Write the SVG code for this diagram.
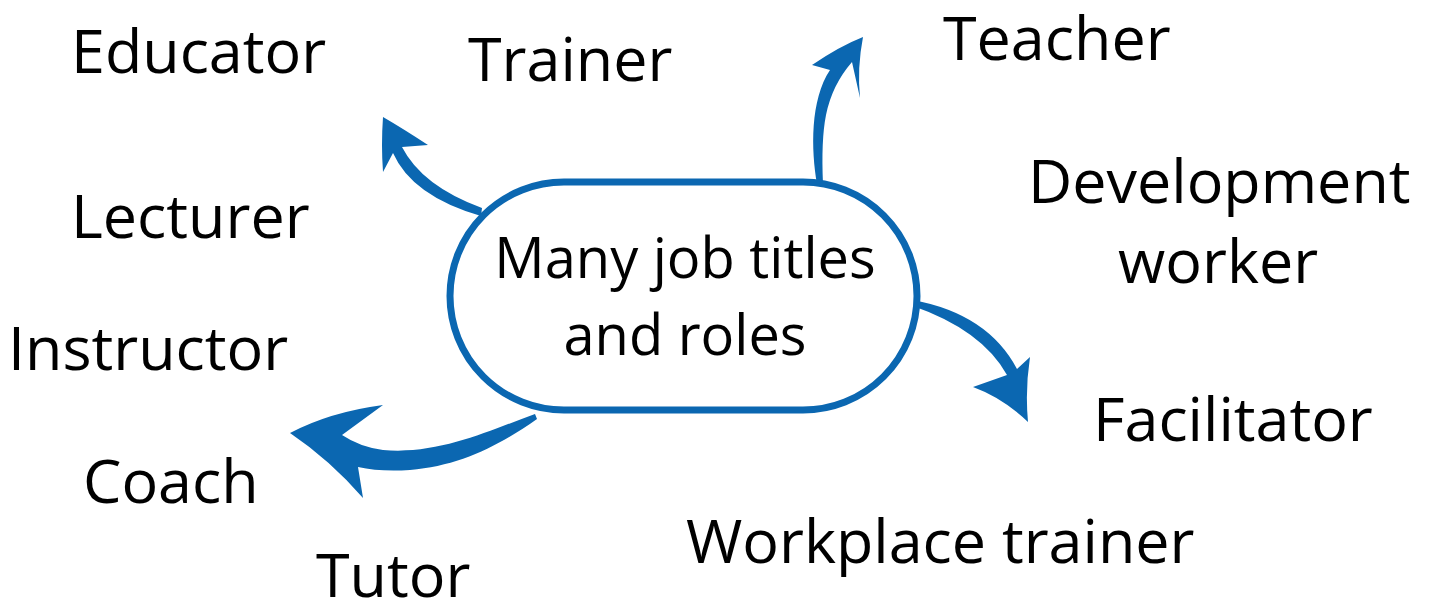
<svg xmlns="http://www.w3.org/2000/svg" width="1432" height="605" viewBox="0 0 1432 605">
<style>
.lbl{font-family:"Open Sans","Noto Sans",sans-serif;font-size:61px;fill:#000}
.ctr{font-family:"Open Sans","Noto Sans",sans-serif;font-size:56px;fill:#000;text-anchor:middle}
.arr{fill:#0b67b1}
</style>
<rect width="1432" height="605" fill="#fff"/>
<g id="connectors">
<path class="arr" d="M482,208 Q422,186 402,147 L428,145 Q402,128 383,117 Q381,145 383,172 L393,153 Q412,196 481,216 Z"/>
<path class="arr" d="M535,414 C490,430 440,455 383,450 Q360,447 342,435 L383,405 Q330,412 290,433 Q330,460 363,498 L358,467 Q380,472 410,470 C460,466 500,445 537,419 Z"/>
<path class="arr" d="M817,184 C811,150 810,100 830,70 L812,65 Q840,46 863,37 Q857,68 860,98 L852,62 Q832,85 826,115 Q821,140 823,184 Z"/>
<path class="arr" d="M913,300 Q988,314 1017,369 L1030,357 Q1025,390 1028,422 Q1003,398 973,387 L1007,375 Q982,330 913,306 Z"/>
</g>
<g id="center">
<rect x="450" y="182" width="467" height="228" rx="114" ry="114" fill="#fff" stroke="#0b67b1" stroke-width="7"/>
<text class="ctr" x="685" y="278">Many job titles</text>
<text class="ctr" x="685" y="355">and roles</text>
</g>
<g id="educator"><text class="lbl" x="71" y="73">Educator</text></g>
<g id="trainer"><text class="lbl" x="468" y="81">Trainer</text></g>
<g id="teacher"><text class="lbl" x="943" y="60">Teacher</text></g>
<g id="development-worker"><text class="lbl" x="1028" y="203">Development</text><text class="lbl" x="1118" y="283">worker</text></g>
<g id="lecturer"><text class="lbl" x="71" y="238">Lecturer</text></g>
<g id="instructor"><text class="lbl" x="8" y="370">Instructor</text></g>
<g id="coach"><text class="lbl" x="83" y="503">Coach</text></g>
<g id="tutor"><text class="lbl" x="316" y="597">Tutor</text></g>
<g id="facilitator"><text class="lbl" x="1093" y="441">Facilitator</text></g>
<g id="workplace-trainer"><text class="lbl" x="686" y="563">Workplace trainer</text></g>
</svg>
